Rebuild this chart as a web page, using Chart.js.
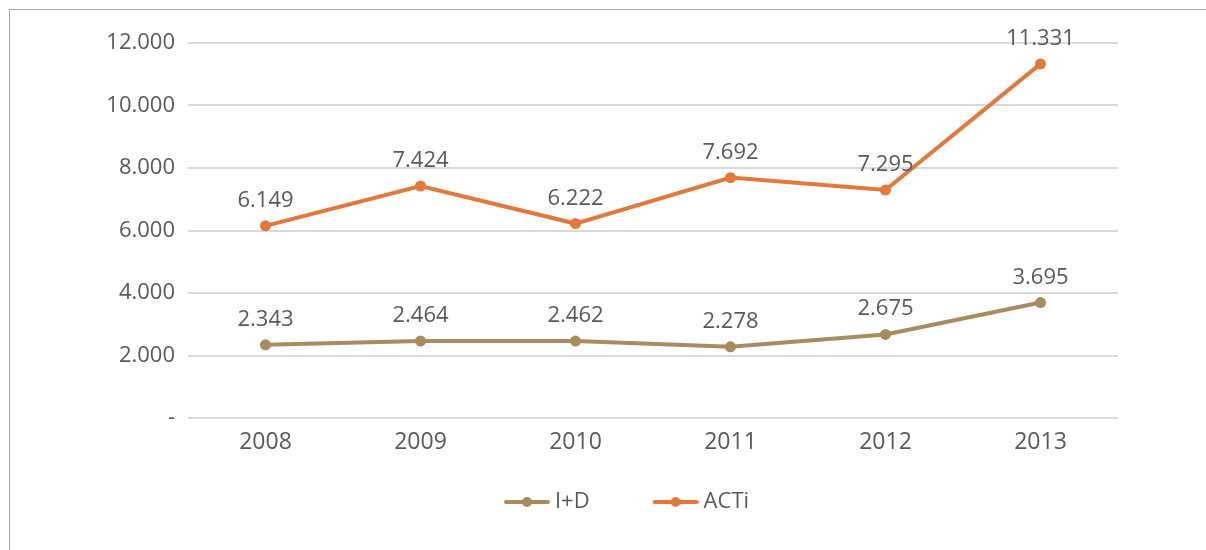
<!DOCTYPE html>
<html>
<head>
<meta charset="utf-8">
<script src="https://cdn.jsdelivr.net/npm/chart.js@4"></script>
<style>
    body { margin: 0; background: #fff; }
    #wrap { position: relative; width: 1206px; height: 550px; }
    #frame { position: absolute; left: 9px; top: 9px; width: 1197px; height: 541px;
        border-left: 1px solid #a6a6a6; border-top: 1px solid #a6a6a6; }
    canvas { position: absolute; left: 0; top: 0; }
</style>
</head>
<body>
<div id="wrap">
    <div id="frame"></div>
    <canvas id="chart" width="1206" height="550"></canvas>
</div>
<script>
const years = ['2008', '2009', '2010', '2011', '2012', '2013'];
const idValues = [2343, 2464, 2462, 2278, 2675, 3695];
const actiValues = [6149, 7424, 6222, 7692, 7295, 11331];
const idColor = '#A98C5E';
const actiColor = '#E4773A';
const textGray = '#595959';
const fontFamily = '"Open Sans", sans-serif';

//thousands with a dot, zero as a dash
const fmt = v => v === 0 ? '-' : String(v).replace(/\B(?=(\d{3})+(?!\d))/g, '.');

//legend symbol: a line with a dot, pushed to the right of a wide blank box
const legendIcon = (color) => {
    const c = document.createElement('canvas');
    c.width = 85;
    c.height = 12;
    const ctx = c.getContext('2d');
    ctx.strokeStyle = color;
    ctx.lineWidth = 4;
    ctx.lineCap = 'round';
    ctx.beginPath();
    ctx.moveTo(41, 6);
    ctx.lineTo(83, 6);
    ctx.stroke();
    ctx.fillStyle = color;
    ctx.beginPath();
    ctx.arc(62, 6, 5, 0, Math.PI * 2);
    ctx.fill();
    return c;
};

//value labels over the points
const valueLabels = {
    id: 'valueLabels',
    afterDatasetsDraw(chart) {
        const ctx = chart.ctx;
        ctx.save();
        ctx.font = '22px ' + fontFamily;
        ctx.fillStyle = textGray;
        ctx.textAlign = 'center';
        ctx.textBaseline = 'alphabetic';
        chart.data.datasets.forEach((ds, i) => {
            chart.getDatasetMeta(i).data.forEach((pt, j) => {
                ctx.fillText(fmt(ds.data[j]), pt.x, pt.y - 19);
            });
        });
        ctx.restore();
    }
};

//move the legend a bit to the right and down, like the original
const legendShift = {
    id: 'legendShift',
    afterLayout(chart) {
        chart.legend.left += 46;
        chart.legend.right += 46;
        chart.legend.top += 3;
        chart.legend.bottom += 3;
    }
};

const chart = new Chart(document.getElementById('chart'), {
    type: 'line',
    data: {
        labels: years,
        datasets: [{
            label: 'I+D',
            data: idValues,
            borderColor: idColor,
            backgroundColor: idColor,
            borderWidth: 4,
            pointRadius: 5.5,
            pointBorderWidth: 0,
            icon: legendIcon(idColor),
        }, {
            label: 'ACTi',
            data: actiValues,
            borderColor: actiColor,
            backgroundColor: actiColor,
            borderWidth: 4,
            pointRadius: 5.5,
            pointBorderWidth: 0,
            icon: legendIcon(actiColor),
        }]
    },
    options: {
        responsive: false,
        animation: false,
        layout: {
            padding: { left: 10, top: 43, right: 88, bottom: 30 }
        },
        scales: {
            x: {
                offset: true,
                grid: { display: false },
                border: { display: false },
                ticks: {
                    color: textGray,
                    font: { family: fontFamily, size: 23 },
                    padding: 3,
                },
                afterFit: s => { s.height = 40; }
            },
            y: {
                min: 0,
                max: 12000,
                grid: { color: '#d9d9d9', lineWidth: 2, drawTicks: false },
                border: { display: false },
                ticks: {
                    stepSize: 2000,
                    color: textGray,
                    font: { family: fontFamily, size: 22 },
                    padding: 13,
                    callback: v => fmt(v),
                },
                afterFit: s => { s.width = 178; }
            }
        },
        plugins: {
            tooltip: { enabled: false },
            legend: {
                position: 'bottom',
                labels: {
                    usePointStyle: true,
                    pointStyleWidth: 73,
                    boxHeight: 12,
                    padding: 30,
                    color: textGray,
                    font: { family: fontFamily, size: 22 },
                    generateLabels: ch => ch.data.datasets.map((ds, i) => ({
                        text: ds.label,
                        pointStyle: ds.icon,
                        fillStyle: ds.borderColor,
                        strokeStyle: ds.borderColor,
                        lineWidth: 0,
                        fontColor: textGray,
                        datasetIndex: i,
                    }))
                }
            }
        }
    },
    plugins: [valueLabels, legendShift]
});
</script>
</body>
</html>
